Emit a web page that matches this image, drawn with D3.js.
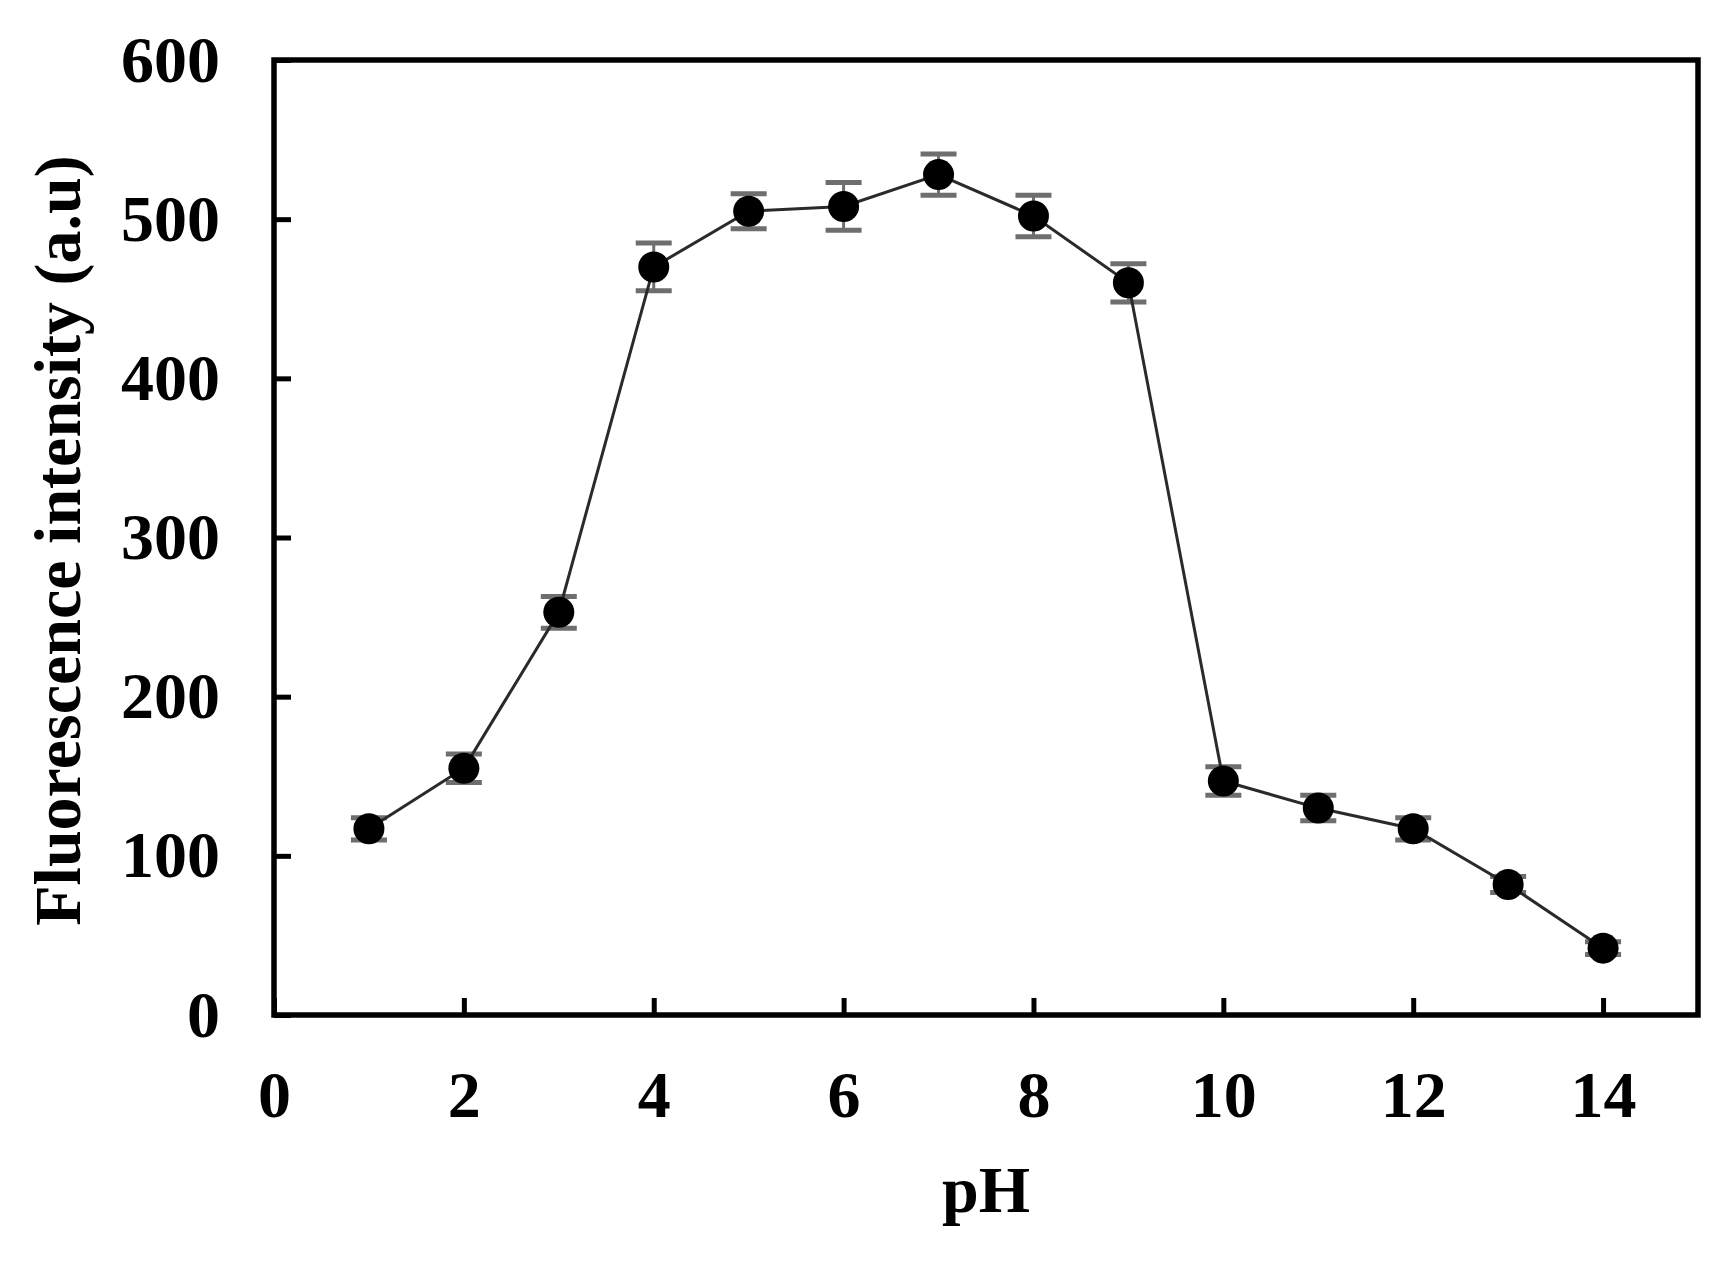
<!DOCTYPE html>
<html>
<head>
<meta charset="utf-8">
<script src="https://cdn.jsdelivr.net/npm/d3@7"></script>
<style>
  html, body { margin: 0; padding: 0; background: #fff; }
  svg { display: block; }
</style>
</head>
<body>
<svg id="chart" width="1726" height="1262"></svg>
<script>
// Data
const pH = [1, 2, 3, 4, 5, 6, 7, 8, 9, 10, 11, 12, 13, 14];
const intensity = [117, 155, 253, 470, 505, 508, 528, 502, 460, 147, 130, 117, 82, 42];
const errors = [7, 9, 10, 15, 11, 15, 13, 13, 12, 9, 8, 7, 5, 4];
const xTicks = [0, 2, 4, 6, 8, 10, 12, 14];
const yTicks = [0, 100, 200, 300, 400, 500, 600];
const xLabel = "pH";
const yLabel = "Fluorescence intensity (a.u)";

(function () {
const svg = d3.select("#chart");
const mLeft = 274, mRight = 1698, mTop = 60, mBottom = 1015;
const font = "'Liberation Serif', 'Times New Roman', serif";

const x = d3.scaleLinear().domain([0, 15]).range([mLeft, mRight]);
const y = d3.scaleLinear().domain([0, 600]).range([mBottom, mTop]);

// Axes
const gx = svg.append("g").attr("transform", `translate(0,${mBottom})`)
  .call(d3.axisBottom(x).tickValues(xTicks).tickSize(-17).tickFormat(d3.format("d")));
gx.select(".domain").remove();
gx.selectAll(".tick line").attr("stroke", "#000").attr("stroke-width", 5);
gx.selectAll(".tick text").attr("y", 102).attr("dy", 0)
  .attr("font-family", font).attr("font-weight", "bold").attr("font-size", 66).attr("fill", "#000");

const gy = svg.append("g").attr("transform", `translate(${mLeft},0)`)
  .call(d3.axisLeft(y).tickValues(yTicks).tickSize(-17).tickFormat(d3.format("d")));
gy.select(".domain").remove();
gy.selectAll(".tick line").attr("stroke", "#000").attr("stroke-width", 5);
gy.selectAll(".tick text").attr("x", -54).attr("dy", "0.32em")
  .attr("font-family", font).attr("font-weight", "bold").attr("font-size", 66).attr("fill", "#000");

// Frame
svg.append("rect")
  .attr("x", mLeft).attr("y", mTop)
  .attr("width", mRight - mLeft).attr("height", mBottom - mTop)
  .attr("fill", "none").attr("stroke", "#000").attr("stroke-width", 5.5);

const data = pH.map((p, i) => ({ p, v: intensity[i], e: errors[i] }));

// Error bars
const eb = svg.append("g").attr("stroke", "#6e6e6e");
eb.selectAll("line.v").data(data).join("line").attr("class", "v")
  .attr("x1", d => x(d.p)).attr("x2", d => x(d.p))
  .attr("y1", d => y(d.v - d.e)).attr("y2", d => y(d.v + d.e))
  .attr("stroke-width", 3);
eb.selectAll("line.cp").data(data).join("line").attr("class", "cp")
  .attr("x1", d => x(d.p) - 18).attr("x2", d => x(d.p) + 18)
  .attr("y1", d => y(d.v + d.e)).attr("y2", d => y(d.v + d.e))
  .attr("stroke-width", 5);
eb.selectAll("line.cm").data(data).join("line").attr("class", "cm")
  .attr("x1", d => x(d.p) - 18).attr("x2", d => x(d.p) + 18)
  .attr("y1", d => y(d.v - d.e)).attr("y2", d => y(d.v - d.e))
  .attr("stroke-width", 5);

// Line
svg.append("path").datum(data)
  .attr("fill", "none").attr("stroke", "#2a2a2a").attr("stroke-width", 3)
  .attr("d", d3.line().x(d => x(d.p)).y(d => y(d.v)));

// Markers
svg.append("g").selectAll("circle").data(data).join("circle")
  .attr("cx", d => x(d.p)).attr("cy", d => y(d.v)).attr("r", 15.5)
  .attr("fill", "#000");

// Axis titles
svg.append("text")
  .attr("x", (mLeft + mRight) / 2).attr("y", 1212)
  .attr("text-anchor", "middle")
  .attr("font-family", font).attr("font-weight", "bold").attr("font-size", 66)
  .text(xLabel);

svg.append("text")
  .attr("transform", `translate(80,${(mTop + mBottom) / 2 + 3}) rotate(-90)`)
  .attr("text-anchor", "middle")
  .attr("font-family", font).attr("font-weight", "bold").attr("font-size", 66)
  .text(yLabel);
})();
</script>
</body>
</html>
